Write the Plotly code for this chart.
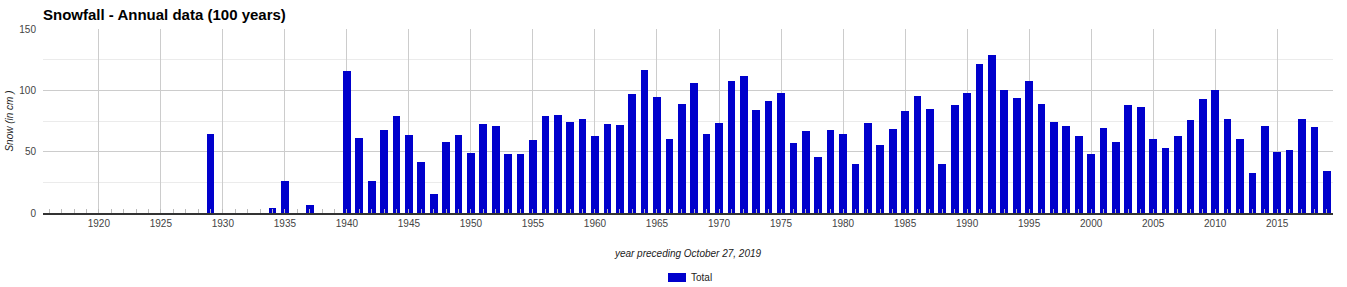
import plotly.graph_objects as go

years = list(range(1920, 2020))
snow = [
    0, 0, 0, 0, 0, 0, 0, 0, 0, 64.6,      # 1920-1929
    0, 0, 0, 0, 4.1, 26.2, 0, 6.5, 0, 0,  # 1930-1939
    116, 61.4, 26.4, 67.4, 79.3, 63.9, 41.8, 15.8, 58.2, 63.9,  # 1940s
    49.2, 72.8, 71.2, 48.4, 48.4, 59.8, 79.3, 80.2, 74.5, 76.9,  # 1950s
    63.0, 72.8, 72.0, 97.3, 116.8, 94.8, 60.6, 89.1, 106.3, 64.7,  # 1960s
    73.6, 107.9, 112.0, 84.2, 91.6, 98.1, 57.3, 67.1, 45.9, 67.9,  # 1970s
    64.7, 40.2, 73.6, 55.7, 68.8, 83.4, 95.7, 85.1, 40.2, 88.3,  # 1980s
    98.1, 121.7, 129.1, 100.5, 94.0, 107.9, 89.1, 74.5, 71.2, 63.0,  # 1990s
    48.4, 69.6, 58.2, 88.3, 86.7, 60.6, 53.3, 63.0, 76.1, 93.2,  # 2000s
    100.5, 76.9, 60.6, 32.9, 71.2, 50.0, 51.6, 76.9, 70.4, 34.5,  # 2010s
]
x_ticks = list(range(1920, 2020, 5))
x_tick_labels = [str(v) for v in x_ticks]
series_name = "Total"
bar_color = "#0000CC"

FONT = "Arial, 'Liberation Sans', sans-serif"

W, H = 1347, 287
ML, MR, MT, MB = 43, 14, 29, 74
PW, PH = W - ML - MR, H - MT - MB


def px_x(x):
    return (x - ML) / PW


def px_y(y):
    return (H - MB - y) / PH


fig = go.Figure()
fig.add_trace(go.Bar(
    x=years, y=snow, name=series_name,
    marker=dict(color=bar_color, line=dict(width=0)),
    width=0.62,
    showlegend=False,
))

fig.update_layout(
    width=W, height=H,
    margin=dict(l=ML, r=MR, t=MT, b=MB, autoexpand=False),
    paper_bgcolor="white", plot_bgcolor="white",
    font=dict(family=FONT, size=10, color="#444"),
    title=dict(
        text="<b>Snowfall - Annual data (100 years)</b>",
        font=dict(family=FONT, size=15, color="#000"),
        xref="paper", x=0, xanchor="left",
        yref="container", y=1 - 15 / H, yanchor="middle",
    ),
    bargap=0,
    showlegend=False,
)

# legend swatch and label (drawn like the original's wide swatch)
fig.add_shape(type="rect", xref="paper", yref="paper",
              x0=px_x(668), x1=px_x(686), y0=px_y(282), y1=px_y(273),
              fillcolor=bar_color, line=dict(width=0))
fig.add_annotation(text=series_name, xref="paper", yref="paper",
                   x=px_x(689), y=px_y(277.5), xanchor="left", yanchor="middle",
                   showarrow=False, font=dict(family=FONT, size=10, color="#222"))

fig.update_xaxes(
    range=[1915.5, 2019.5], automargin=False,
    tickvals=x_ticks, ticktext=x_tick_labels,
    showgrid=True, gridcolor="#cccccc", gridwidth=1,
    ticks="", tickfont=dict(size=10, color="#444"),
    showline=True, linecolor="#333333", linewidth=1.5,
    zeroline=False,
    minor=dict(ticks="inside", dtick=1, tick0=1920, ticklen=4,
               tickcolor="#bbbbbb", tickwidth=1, showgrid=False),
    title=dict(text="<i>year preceding October 27, 2019</i>",
               font=dict(family=FONT, size=10, color="#222"), standoff=22),
)

fig.update_yaxes(
    range=[0, 150], tick0=0, dtick=50, automargin=False,
    showgrid=True, gridcolor="#cccccc", gridwidth=1,
    minor=dict(dtick=25, showgrid=True, gridcolor="#ebebeb", gridwidth=1),
    ticks="", ticklabelstandoff=6,
    tickfont=dict(size=10, color="#444"),
    zeroline=False, showline=False,
    title=dict(text="<i>Snow (in cm )</i>",
               font=dict(family=FONT, size=10, color="#222"), standoff=3),
)

fig.write_html("out.html")
